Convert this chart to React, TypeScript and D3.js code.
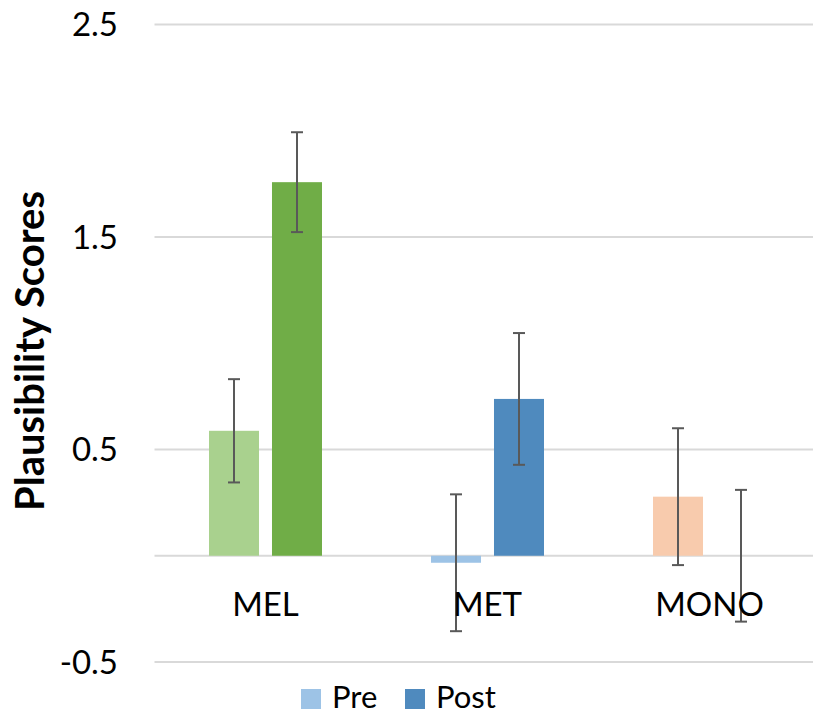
import React from "react";
import * as d3 from "d3";

const categories = ["MEL", "MET", "MONO"];
const series = ["Pre", "Post"];
const preValues = [0.588, -0.033, 0.278];
const postValues = [1.758, 0.738, 0.0];
const preErrors = [0.243, 0.322, 0.322];
const postErrors = [0.235, 0.31, 0.31];
const preColors = ["#A9D18E", "#9DC3E6", "#F8CBAD"];
const postColors = ["#70AD47", "#4F8ABE", "#F4B183"];
const yTicks = [2.5, 1.5, 0.5, -0.5];
const gridValues = [2.5, 1.5, 0.5, 0, -0.5];
const legendColors = ["#9DC3E6", "#4F8ABE"];

const W = 813;
const H = 716;
const FONT = "Lato, 'Open Sans', sans-serif";

export default function App() {
  const x = d3.scaleBand<string>().domain(categories).range([154.5, 820.5]).padding(0);
  const xs = d3.scaleBand<string>().domain(series).range([0, 113]).paddingInner(0.206).paddingOuter(0);
  const y = d3.scaleLinear().domain([-0.5, 2.5]).range([662, 24.5]);
  const groupOffset = (x.bandwidth() - 113) / 2;

  const bars: any[] = [];
  categories.forEach((c, i) => {
    [preValues[i], postValues[i]].forEach((v, j) => {
      const s = series[j];
      const err = j === 0 ? preErrors[i] : postErrors[i];
      const color = j === 0 ? preColors[i] : postColors[i];
      const bx = (x(c) as number) + groupOffset + (xs(s) as number);
      const bw = xs.bandwidth();
      bars.push({ key: c + s, bx, bw, v, err, color });
    });
  });

  return (
    <div style={{ position: "fixed", left: 0, top: 0, width: W, height: H, background: "#fff" }}>
      <svg width={W} height={H} style={{ display: "block" }}>
        <rect width={W} height={H} fill="#fff" />
        {gridValues.map((g) => (
          <line key={g} x1={154.5} x2={W} y1={y(g)} y2={y(g)} stroke="#D9D9D9" strokeWidth={2} />
        ))}
        {yTicks.map((t) => (
          <text key={t} x={118} y={y(t)} dy="0.35em" textAnchor="end" fontFamily={FONT} fontSize={33} fill="#000">
            {t}
          </text>
        ))}
        {bars.map((b) => (
          <rect
            key={b.key}
            x={b.bx}
            width={b.bw}
            y={Math.min(y(b.v), y(0))}
            height={Math.abs(y(b.v) - y(0))}
            fill={b.color}
          />
        ))}
        {bars.map((b) => {
          const cx = b.bx + b.bw / 2;
          return (
            <g key={"e" + b.key} stroke="#595959" strokeWidth={2}>
              <line x1={cx} x2={cx} y1={y(b.v + b.err)} y2={y(b.v - b.err)} />
              <line x1={cx - 6} x2={cx + 6} y1={y(b.v + b.err)} y2={y(b.v + b.err)} />
              <line x1={cx - 6} x2={cx + 6} y1={y(b.v - b.err)} y2={y(b.v - b.err)} />
            </g>
          );
        })}
        {categories.map((c) => (
          <text key={c} x={(x(c) as number) + x.bandwidth() / 2} y={616} textAnchor="middle" fontFamily={FONT} fontSize={33} fill="#000">
            {c}
          </text>
        ))}
        <text
          transform={`translate(44, 351) rotate(-90)`}
          textAnchor="middle"
          fontFamily={FONT}
          fontSize={40}
          fontWeight="bold"
          fill="#000"
        >
          Plausibility Scores
        </text>
        {series.map((s, i) => {
          const lx = i === 0 ? 301 : 405;
          return (
            <g key={s}>
              <rect x={lx} y={689} width={20} height={20} fill={legendColors[i]} />
              <text x={lx + 31} y={708} fontFamily={FONT} fontSize={31} fill="#000">
                {s}
              </text>
            </g>
          );
        })}
      </svg>
    </div>
  );
}
